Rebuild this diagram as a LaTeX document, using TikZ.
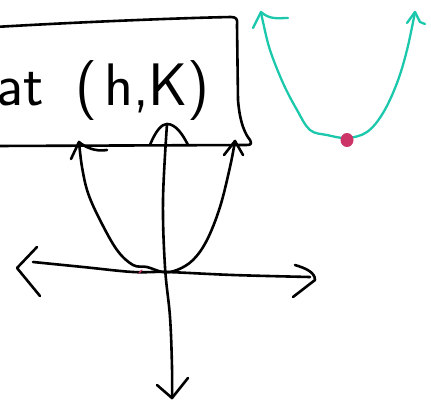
\documentclass[tikz,border=0pt]{standalone}
\usetikzlibrary{calc,shapes.geometric}
\definecolor{inkteal}{RGB}{28,200,172}
\definecolor{inkpink}{RGB}{204,52,104}
\tikzset{
  ink/.style={line width=2.6pt, line cap=round, line join=round, black},
  tealink/.style={line width=2.3pt, line cap=round, line join=round, inkteal},
  label/.style={font=\sffamily\fontsize{60}{60}\selectfont, inner sep=0pt}
}
\begin{document}
\begin{tikzpicture}[x=1pt,y=-1pt]
\useasboundingbox (0,0) rectangle (431,402);
\clip (0,0) rectangle (431,402);
% box
\draw[ink] (-5,27) .. controls (80,22) and (180,18) .. (231,17)
  .. controls (236,17) and (238,19) .. (237,25)
  -- (238,100) .. controls (240,125) and (246,135) .. (250,140)
  .. controls (252,144) and (251,145) .. (246,145)
  -- (-5,146);
\node[label, anchor=base east] (txt) at (210,105) {at\hspace{12pt} (\hspace{7pt}h,K)};
% black parabola
\coordinate (pl) at (79,142);
\coordinate (pr) at (235,141);
\draw[ink] plot[smooth, tension=0.6] coordinates {(79,142) (82,167) (88,193) (100,220) (117,250) (133,265) (147,267) (163,272) (177,270) (193,260) (207,240) (220,207) (230,167) (235,141)};
\draw[ink] (71,159) -- (pl) .. controls (85,147) and (95,152) .. (107,150);
\draw[ink] (224,155) -- (pr) -- (243,155);
% vertical axis
\coordinate (yt) at (167,124);
\coordinate (yb) at (172,398);
\draw[ink] (150,145) .. controls (156,130) and (162,124) .. (yt) .. controls (176,124) and (183,135) .. (188,145);
\draw[ink] plot[smooth, tension=0.6] coordinates {(yt) (163,200) (165,267) (170,317) (172,367) (yb)};
\draw[ink] (157,385) -- (yb) -- (188,378);
% horizontal axis
\coordinate (xl) at (33,262);
\coordinate (xr) at (310,277);
\draw[ink] plot[smooth, tension=0.6] coordinates {(xl) (83,267) (133,272) (167,272) (233,275) (xr)};
\draw[ink] (37,247) -- (17,268) -- (40,296);
\draw[ink] (295,265) .. controls (305,268) and (315,272) .. (315,280) -- (293,297);
% small pink tick
\draw[inkpink, line width=1.2pt, line cap=round] (139,273) -- (142,270);
% teal parabola
\coordinate (tl) at (261,12);
\coordinate (tr) at (415,12);
\draw[tealink] plot[smooth, tension=0.6] coordinates {(tl) (263,22) (270,50) (283,83) (297,110) (310,130) (327,135) (347,138) (367,132) (383,113) (397,83) (407,50) (tr)};
\draw[tealink] (253,28) -- (tl) .. controls (270,20) and (278,18) .. (288,18);
\draw[tealink] (407,23) -- (tr) -- (420,22) -- (425,24);
% vertex dot
\node[draw=none, fill=inkpink, ellipse, minimum width=13pt, minimum height=14pt, inner sep=0pt] (v) at (347,140) {};
\end{tikzpicture}
\end{document}
